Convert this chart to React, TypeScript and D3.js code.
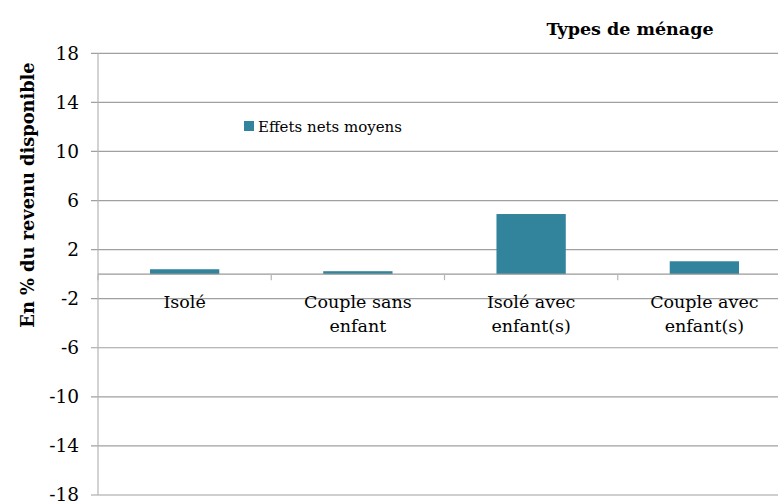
import React from "react";
import * as d3 from "d3";

const categories = ["Isolé", "Couple sans enfant", "Isolé avec enfant(s)", "Couple avec enfant(s)"];
const categoryLines = [["Isolé"], ["Couple sans", "enfant"], ["Isolé avec", "enfant(s)"], ["Couple avec", "enfant(s)"]];
const effetsNets = [0.4, 0.24, 4.9, 1.05];
const yTicks = [-18, -14, -10, -6, -2, 2, 6, 10, 14, 18];
const seriesName = "Effets nets moyens";
const yTitle = "En % du revenu disponible";
const xTitle = "Types de ménage";

const W = 778;
const H = 502;
const FONT = "'DejaVu Serif', 'Liberation Serif', serif";
const BAR = "#31849B";
const GRID = "#a0a0a0";

export default function App() {
  const left = 98;
  const right = 791;
  const top = 53.3;
  const bottom = 495;
  const x = d3.scaleBand<string>().domain(categories).range([left, right]).paddingInner(0).paddingOuter(0);
  const y = d3.scaleLinear().domain([-18, 18]).range([bottom, top]);
  const bw = x.bandwidth() * 0.4;
  const y0 = y(0);

  return (
    <svg width={W} height={H} style={{ position: "absolute", left: 0, top: 0 }} fontFamily={FONT}>
      <rect x={0} y={0} width={W} height={H} fill="#fff" />
      {yTicks.map((t) => (
        <g key={t}>
          <line x1={left - 7} x2={right} y1={y(t)} y2={y(t)} stroke={GRID} strokeWidth={1.2} />
          <text x={79} y={y(t)} dy="0.35em" textAnchor="end" fontSize={18.5} fill="#000">
            {t}
          </text>
        </g>
      ))}
      <line x1={left} x2={left} y1={top} y2={bottom} stroke="#b5b5b5" strokeWidth={1.2} />
      {categories.map((c, i) => (
        <rect
          key={c}
          x={(x(c) as number) + (x.bandwidth() - bw) / 2}
          y={y(Math.max(0, effetsNets[i]))}
          width={bw}
          height={Math.abs(y(effetsNets[i]) - y0)}
          fill={BAR}
        />
      ))}
      <line x1={left} x2={right} y1={y0} y2={y0} stroke="#9a9a9a" strokeWidth={1.2} />
      {categories.map((c) => (
        <line key={c + "t"} x1={(x(c) as number)} x2={(x(c) as number)} y1={y0} y2={y0 + 6} stroke="#b5b5b5" strokeWidth={1.2} />
      ))}
      {categories.map((c, i) => (
        <text key={c + "l"} textAnchor="middle" fontSize={17.5} fill="#000">
          {categoryLines[i].map((ln, j) => (
            <tspan key={j} x={(x(c) as number) + x.bandwidth() / 2} y={308 + j * 24}>
              {ln}
            </tspan>
          ))}
        </text>
      ))}
      <rect x={244} y={121} width={10} height={10} fill={BAR} />
      <text x={258} y={131.5} fontSize={15} fill="#000">
        {seriesName}
      </text>
      <text x={630} y={35} textAnchor="middle" fontSize={17.5} fontWeight="bold" fill="#000">
        {xTitle}
      </text>
      <text transform={`translate(34,195) rotate(-90)`} textAnchor="middle" fontSize={17.8} fontWeight="bold" fill="#000">
        {yTitle}
      </text>
    </svg>
  );
}
